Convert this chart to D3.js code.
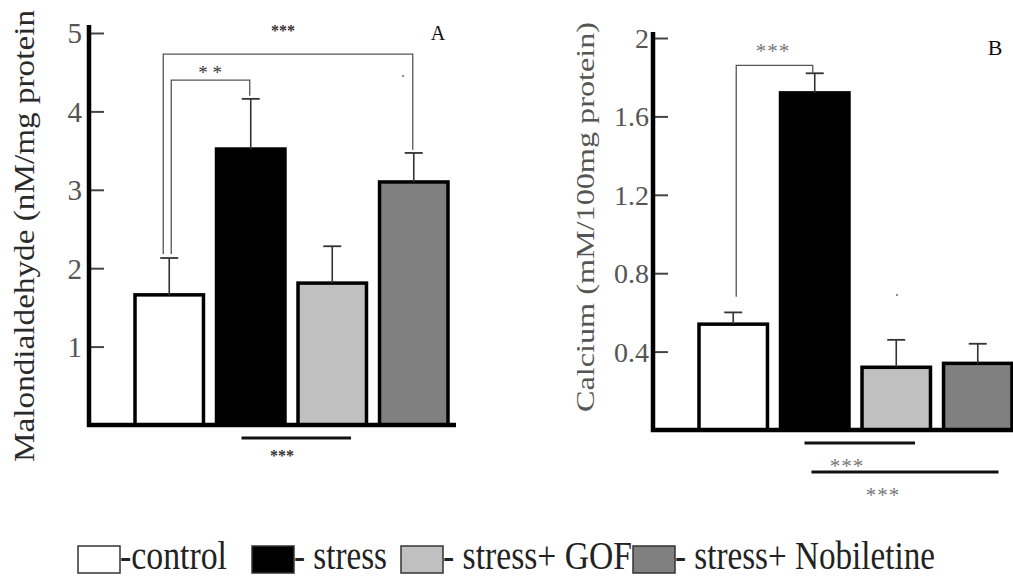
<!DOCTYPE html>
<html>
<head>
<meta charset="utf-8">
<script src="https://cdn.jsdelivr.net/npm/d3@7/dist/d3.min.js"></script>
<style>
  html, body { margin: 0; padding: 0; background: #fff; }
  svg { display: block; }
  text { font-family: "Liberation Serif", "DejaVu Serif", serif; }
</style>
</head>
<body>
<svg id="chart" width="1013" height="578"></svg>
<script>
// Treatment groups shared by both panels
const groups = ["control", "stress", "stress+ GOF", "stress+ Nobiletine"];
const legendLabels = ["-control", "- stress", "- stress+ GOF", "- stress+ Nobiletine"];
const fills = ["#ffffff", "#000000", "#c0c0c0", "#808080"];

// Panel A: malondialdehyde (nM/mg protein), mean and SD
const mdaMean = [1.66, 3.52, 1.81, 3.10];
const mdaErr  = [0.47, 0.64, 0.47, 0.37];
const mdaTicks = [1, 2, 3, 4, 5];

// Panel B: calcium (mM/100mg protein), mean and SD
const caMean = [0.54, 1.72, 0.32, 0.34];
const caErr  = [0.06, 0.10, 0.14, 0.10];
const caTicks = [0.4, 0.8, 1.2, 1.6, 2];

const svg = d3.select("#chart");

function panel(cfg) {
  const g = svg.append("g");
  const y = d3.scaleLinear().domain(cfg.domain).range([cfg.y0, cfg.yTop]);
  const x = d3.scaleBand().domain(groups).range(cfg.xr).paddingInner(0.16).paddingOuter(0);
  const cx = i => x(groups[i]) + x.bandwidth() / 2;

  // ticks pointing inward with labels on the left
  const axis = d3.axisLeft(y).tickValues(cfg.ticks).tickSize(-15).tickPadding(cfg.pad)
    .tickFormat(cfg.fmt);
  const ag = g.append("g").attr("transform", `translate(${cfg.ax},0)`).call(axis);
  ag.select(".domain").remove();
  ag.selectAll(".tick line").attr("stroke", "#444").attr("stroke-width", 2);
  ag.selectAll(".tick text").attr("fill", "#555").attr("font-size", cfg.tickFont)
    .attr("font-family", "Liberation Serif, serif").attr("dy", "0.34em");

  // bars
  g.selectAll("rect.bar").data(cfg.mean).join("rect").attr("class", "bar")
    .attr("x", (d, i) => x(groups[i]))
    .attr("y", d => y(d))
    .attr("width", x.bandwidth())
    .attr("height", d => y(0) - y(d))
    .attr("fill", (d, i) => fills[i])
    .attr("stroke", "#000").attr("stroke-width", 3.5);

  // error bars (upper whisker only)
  cfg.mean.forEach((m, i) => {
    const top = y(m + cfg.err[i]);
    g.append("line").attr("x1", cx(i)).attr("x2", cx(i)).attr("y1", y(m)).attr("y2", top)
      .attr("stroke", "#333").attr("stroke-width", 1.6);
    g.append("line").attr("x1", cx(i) - 9).attr("x2", cx(i) + 9).attr("y1", top).attr("y2", top)
      .attr("stroke", "#333").attr("stroke-width", 1.8);
  });

  // axis lines
  g.append("line").attr("x1", cfg.ax).attr("x2", cfg.ax).attr("y1", cfg.axTop).attr("y2", y(0) + 2)
    .attr("stroke", "#000").attr("stroke-width", 4.5);
  g.append("line").attr("x1", cfg.ax - 2).attr("x2", cfg.axRight).attr("y1", y(0)).attr("y2", y(0))
    .attr("stroke", "#000").attr("stroke-width", 4.5);

  // comparison brackets
  cfg.brackets.forEach(b => {
    const xl = cx(b.from) + b.dl, xr = cx(b.to) + b.dr;
    g.append("path")
      .attr("d", `M${xl},${y(b.leftEnd)}V${y(b.level)}H${xr}V${y(b.rightEnd)}`)
      .attr("fill", "none").attr("stroke", "#555").attr("stroke-width", 1.3);
  });

  // underlines below the axis
  cfg.underlines.forEach(u => {
    g.append("line")
      .attr("x1", x(groups[u.from]) + u.dl).attr("x2", x(groups[u.to]) + u.dr)
      .attr("y1", y(0) + u.dy).attr("y2", y(0) + u.dy)
      .attr("stroke", "#111").attr("stroke-width", 3);
  });

  // significance stars and panel letter
  cfg.stars.forEach(s => {
    g.append("text").attr("x", s.x).attr("y", s.y).attr("text-anchor", "middle")
      .attr("font-size", s.size).attr("font-weight", s.bold ? "bold" : "normal")
      .attr("fill", s.color).attr("letter-spacing", s.ls || 0).text(s.t);
  });
  g.append("text").attr("x", cfg.letter[0]).attr("y", cfg.letter[1]).attr("text-anchor", "middle")
    .attr("font-size", cfg.letter[2]).attr("fill", "#111").text(cfg.letterText);

  // y-axis title
  g.append("text")
    .attr("transform", `translate(${cfg.title.x},${cfg.title.y}) rotate(-90)`)
    .attr("text-anchor", "middle").attr("font-size", cfg.title.size).attr("fill", cfg.title.color)
    .attr("textLength", cfg.title.len).attr("lengthAdjust", "spacingAndGlyphs")
    .text(cfg.title.text);

  // stray specks
  cfg.dots.forEach(d => g.append("circle").attr("cx", d[0]).attr("cy", d[1]).attr("r", 1)
    .attr("fill", "#666"));
}

panel({
  domain: [0, 5], y0: 425, yTop: 33, xr: [135, 448], ax: 89, axTop: 25, axRight: 456,
  ticks: mdaTicks, fmt: d3.format("d"), pad: 7, tickFont: 29,
  mean: mdaMean, err: mdaErr,
  brackets: [
    { from: 0, to: 3, dl: -6, dr: -1, level: 4.73, leftEnd: 2.18, rightEnd: 3.51 },
    { from: 0, to: 1, dl: 2, dr: -1, level: 4.40, leftEnd: 2.18, rightEnd: 4.20 }
  ],
  underlines: [{ from: 1, to: 2, dl: 25, dr: 53, dy: 13 }],
  stars: [
    { x: 283, y: 36, t: "***", size: 16, bold: true, color: "#333" },
    { x: 210, y: 79, t: "* *", size: 19, bold: false, color: "#333" },
    { x: 282, y: 461, t: "***", size: 16, bold: true, color: "#333" }
  ],
  letter: [438, 40, 20], letterText: "A",
  title: { x: 34, y: 236, size: 30, color: "#2a2a2a", len: 452, text: "Malondialdehyde (nM/mg protein" },
  dots: [[403, 76]]
});

panel({
  domain: [0, 2], y0: 430, yTop: 38, xr: [699, 1012], ax: 653, axTop: 32, axRight: 1013,
  ticks: caTicks, fmt: d => d3.format("~g")(d), pad: 4, tickFont: 28,
  mean: caMean, err: caErr,
  brackets: [
    { from: 0, to: 1, dl: 3, dr: -2, level: 1.86, leftEnd: 0.68, rightEnd: 1.82 }
  ],
  underlines: [
    { from: 1, to: 2, dl: 24, dr: 53, dy: 13 },
    { from: 1, to: 3, dl: 31, dr: 55, dy: 42 }
  ],
  stars: [
    { x: 773, y: 58, t: "***", size: 21, color: "#777", ls: 1 },
    { x: 847, y: 473, t: "***", size: 21, color: "#777", ls: 1 },
    { x: 883, y: 502, t: "***", size: 21, color: "#777", ls: 1 }
  ],
  letter: [995, 55, 22], letterText: "B",
  title: { x: 594, y: 217, size: 26, color: "#555", len: 390, text: "Calcium (mM/100mg protein)" },
  dots: [[897, 295]]
});

// legend
const legendBoxes = [78, 252, 401, 633];
const legendWidths = [107, 93, 189, 260];
const lg = svg.append("g");
groups.forEach((gname, i) => {
  lg.append("rect").attr("x", legendBoxes[i]).attr("y", 546).attr("width", 42).attr("height", 27)
    .attr("fill", fills[i]).attr("stroke", "#333").attr("stroke-width", 1.5);
  lg.append("text").attr("x", legendBoxes[i] + 42).attr("y", 569)
    .attr("font-size", 40).attr("fill", "#222")
    .attr("textLength", legendWidths[i]).attr("lengthAdjust", "spacingAndGlyphs")
    .text(legendLabels[i]);
});
</script>
</body>
</html>
